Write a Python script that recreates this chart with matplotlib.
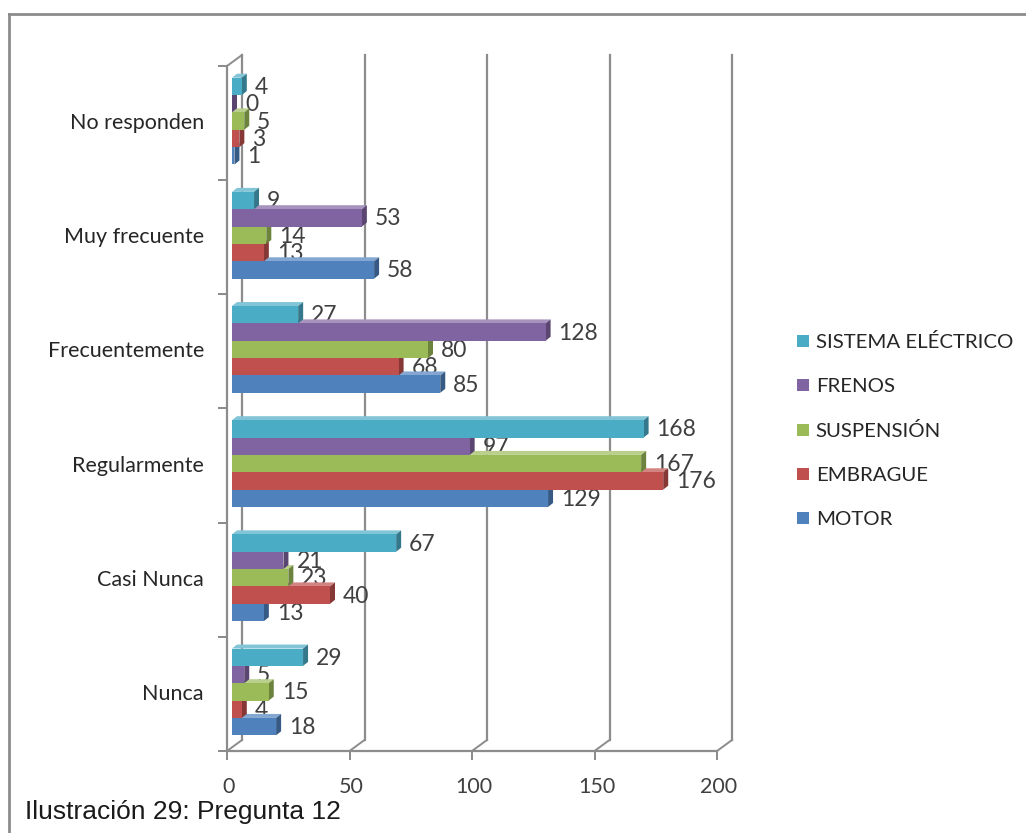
import matplotlib.pyplot as plt
from matplotlib.lines import Line2D
from matplotlib.patches import Polygon, Patch
from matplotlib.transforms import ScaledTranslation
import matplotlib.colors as mcolors
import numpy as np

# Respuestas por categoría (de abajo hacia arriba)
categorias = ["Nunca", "Casi Nunca", "Regularmente", "Frecuentemente",
              "Muy frecuente", "No responden"]
series = ["MOTOR", "EMBRAGUE", "SUSPENSIÓN", "FRENOS", "SISTEMA ELÉCTRICO"]
colores = ["#4F81BD", "#C0504D", "#9BBB59", "#8064A2", "#4BACC6"]

motor = [18, 13, 129, 85, 58, 1]
embrague = [4, 40, 176, 68, 13, 3]
suspension = [15, 23, 167, 80, 14, 5]
frenos = [5, 21, 97, 128, 53, 0]
sistema_electrico = [29, 67, 168, 27, 9, 4]
valores = [motor, embrague, suspension, frenos, sistema_electrico]

xticks = [0, 50, 100, 150, 200]

W, H, DPI = 1026, 833, 100
fig = plt.figure(figsize=(W / DPI, H / DPI), dpi=DPI)
fig.patch.set_facecolor("white")

# plano frontal del gráfico en píxeles
x0, x1, y0, y1 = 227, 717, 751, 66
ax = fig.add_axes([x0 / W, 1 - y0 / H, (x1 - x0) / W, (y0 - y1) / H])
ax.set_xlim(0, 200)
ax.set_ylim(-0.5, 5.5)
ax.axis("off")


def desplazado(dx, dy):
    return ax.transData + ScaledTranslation(dx / DPI, dy / DPI, fig.dpi_scale_trans)


gris = "#8c8c8c"
texto = "#404040"
fondo = desplazado(15, 11)

# pared izquierda y líneas de división
ax.plot([0, 0], [-0.5, 5.5], color=gris, lw=1.6, clip_on=False)
ax.plot([0, 0], [-0.5, 5.5], color=gris, lw=1.6, clip_on=False, transform=fondo)
for v in xticks:
    if v > 0:
        ax.plot([v, v], [-0.5, 5.5], color=gris, lw=1.6, clip_on=False, transform=fondo)
    # diagonal del suelo al fondo
    p0 = ax.transData.transform((v, -0.5))
    p1 = fondo.transform((v, -0.5))
    fig.add_artist(Line2D([p0[0] / W, p1[0] / W], [p0[1] / H, p1[1] / H],
                          color=gris, lw=1.4, transform=fig.transFigure))
# diagonal superior de la pared izquierda
p0 = ax.transData.transform((0, 5.5))
p1 = fondo.transform((0, 5.5))
fig.add_artist(Line2D([p0[0] / W, p1[0] / W], [p0[1] / H, p1[1] / H],
                      color=gris, lw=1.4, transform=fig.transFigure))

# eje del suelo con marcas
ax.plot([0, 200], [-0.5, -0.5], color=gris, lw=1.6, clip_on=False)
for v in xticks:
    ax.plot([v, v], [-0.5, -0.5], marker=(2, 0, 0), markersize=7, color=gris,
            mew=1.4, clip_on=False, transform=desplazado(0, -4))
    ax.text(v, -0.5, str(v), transform=desplazado(2, -36), ha="center", va="center",
            fontsize=15.5, family="Lato", color=texto)
for b in np.arange(-0.5, 6.0, 1.0):
    ax.plot([0, 0], [b, b], marker=(2, 0, 90), markersize=7, color=gris,
            mew=1.4, clip_on=False, transform=desplazado(-4, 0))
for i, c in enumerate(categorias):
    ax.text(0, i, c, transform=desplazado(-23, 0), ha="right", va="center",
            fontsize=15.5, family="Lato", color="#262626")

# barras con aspecto tridimensional
h = 0.152
bdx, bdy = 5, 2
pdx, pdy = 5, 4
frente = desplazado(bdx, bdy)

for k, (vals, col) in enumerate(zip(valores, colores)):
    rgb = np.array(mcolors.to_rgb(col))
    claro = rgb + (1 - rgb) * 0.3
    oscuro = rgb * 0.7
    for i, v in enumerate(vals):
        yc = i + (k - 2) * h
        yb, yt = yc - h / 2, yc + h / 2
        # esquinas en píxeles
        bl = frente.transform((0, yb))
        br = frente.transform((v, yb))
        tl = frente.transform((0, yt))
        tr = frente.transform((v, yt))
        d = np.array([pdx, pdy])
        cara = [bl, br, tr, tl]
        tapa = [tl, tr, tr + d, tl + d]
        lado = [br, br + d, tr + d, tr]
        z = 3 + k
        for pts, fc in ((tapa, claro), (lado, oscuro), (cara, rgb)):
            pts = np.array(pts) / [W, H]
            fig.add_artist(Polygon(pts, closed=True, facecolor=fc, edgecolor="none",
                                   transform=fig.transFigure, zorder=z))
        ax.text(v, yc, str(v), transform=desplazado(bdx + pdx + 8, bdy - 1),
                ha="left", va="center", fontsize=16.5, family="Lato",
                color=texto, zorder=20)

# leyenda
handles = [Patch(facecolor=c, edgecolor="none") for c in colores][::-1]
fig.legend(handles, series[::-1], loc="upper left", bbox_to_anchor=(779 / W, 1 - 315 / H),
           frameon=False, prop={"family": "Lato", "size": 14.7},
           handlelength=0.55, handleheight=0.55, handletextpad=0.35, labelspacing=1.32,
           labelcolor="#262626")

# marco y pie de figura
fig.add_artist(Line2D([9 / W, 1], [1 - 14 / H, 1 - 14 / H], color="#8c8c8c", lw=2,
                      transform=fig.transFigure))
fig.add_artist(Line2D([9 / W, 9 / W], [0, 1 - 14 / H], color="#8c8c8c", lw=2,
                      transform=fig.transFigure))
fig.text(25 / W, 1 - 812 / H, "Ilustración 29: Pregunta 12", ha="left", va="center",
         fontsize=19, family="Liberation Sans", color="#1a1a1a")

fig.savefig("out.png", dpi=DPI)
